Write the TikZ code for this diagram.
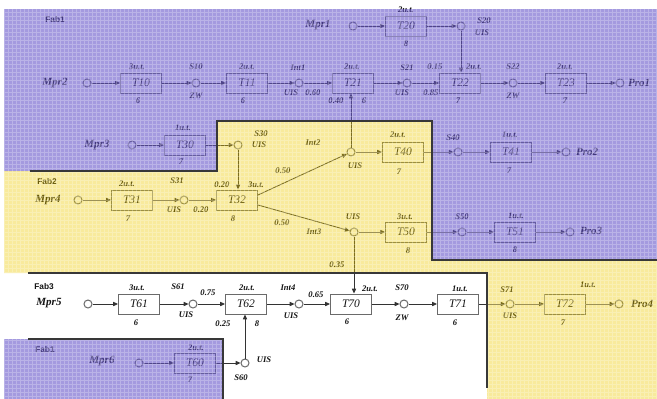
\documentclass[tikz,border=0pt]{standalone}
\usepackage{fontspec}
\setmainfont{Liberation Serif}
\newfontfamily\fabfont{Liberation Sans}
\usetikzlibrary{arrows.meta}
\definecolor{ink}{HTML}{141414}
\definecolor{boxc}{HTML}{6A6A6A}
\definecolor{lav}{HTML}{6352C8}
\definecolor{yel}{HTML}{EDCA00}
\definecolor{edgec}{HTML}{333333}
\definecolor{bordc}{HTML}{383838}
\newcommand\mylab[4][sm]{\node[#1] (#2) at (#3) {#4};}
\begin{document}
\begin{tikzpicture}[x=1pt,y=-1pt,
  every node/.style={text=ink},
  tb/.style={draw=boxc, line width=1pt, minimum width=41pt, minimum height=20pt, inner sep=0pt, font=\fontsize{11.5}{12}\selectfont\itshape},
  ci/.style={circle, draw=boxc, line width=1pt, minimum size=8pt, inner sep=0pt},
  big/.style={font=\fontsize{11}{11}\selectfont\bfseries\itshape, inner sep=0pt},
  sm/.style={font=\fontsize{8.6}{9}\selectfont\bfseries\itshape, inner sep=0pt},
  fab/.style={font=\fabfont\fontsize{8.3}{9}\selectfont\bfseries, inner sep=0pt},
  ar/.style={draw=edgec, line width=0.85pt, -{Triangle[length=4.8pt,width=4.2pt]}},
  brd/.style={draw=bordc, line width=1.5pt},
]
\useasboundingbox (0,0) rectangle (657,399);
\fill[white] (0,0) rectangle (657,399);

% ---------- row 1 ----------
\node[ci] (cM2) at (87,83) {};
\node[tb] (T10) at (141,83) {T10};
\node[ci] (S10) at (196,83) {};
\node[tb] (T11) at (247,83) {T11};
\node[ci] (Int1) at (299,83) {};
\node[tb] (T21) at (353,83) {T21};
\node[ci] (S21) at (407,83) {};
\node[tb] (T22) at (460,83) {T22};
\node[ci] (S22) at (513,83) {};
\node[tb] (T23) at (566,83) {T23};
\node[ci] (Pro1c) at (620,83) {};
\node[ci] (cM1) at (353,26) {};
\node[tb] (T20) at (406,26) {T20};
\node[ci] (S20) at (461,26) {};

% ---------- T30 row ----------
\node[ci] (cM3) at (132,145) {};
\node[tb] (T30) at (185,145) {T30};
\node[ci] (S30) at (238,145) {};

% ---------- row 2 ----------
\node[ci] (cM4) at (78,200) {};
\node[tb] (T31) at (132,200) {T31};
\node[ci] (S31) at (184,200) {};
\node[tb] (T32) at (237,200) {T32};
\node[ci] (Int2) at (351,152) {};
\node[tb] (T40) at (403,152) {T40};
\node[ci] (S40) at (458,152) {};
\node[tb] (T41) at (511,152) {T41};
\node[ci] (Pro2c) at (566,152) {};
\node[ci] (Int3) at (354,232) {};
\node[tb] (T50) at (406,232) {T50};
\node[ci] (S50) at (462,232) {};
\node[tb] (T51) at (515,232) {T51};
\node[ci] (Pro3c) at (570,232) {};

% ---------- row 3 ----------
\node[ci] (cM5) at (88,304) {};
\node[tb] (T61) at (139,304) {T61};
\node[ci] (S61) at (193,304) {};
\node[tb] (T62) at (246,304) {T62};
\node[ci] (Int4) at (299,304) {};
\node[tb] (T70) at (351,304) {T70};
\node[ci] (S70) at (404,304) {};
\node[tb] (T71) at (458,304) {T71};
\node[ci] (S71) at (510,304) {};
\node[tb] (T72) at (565,304) {T72};
\node[ci] (Pro4c) at (619,304) {};

% ---------- bottom ----------
\node[ci] (cM6) at (139,363) {};
\node[tb] (T60) at (195,363) {T60};
\node[ci] (S60) at (245,363) {};

% ---------- connectors ----------
\draw[ar] (cM2) -- (T10);
\draw[ar] (T10) -- (S10);
\draw[ar] (S10) -- (T11);
\draw[ar] (T11) -- (Int1);
\draw[ar] (Int1) -- (T21);
\draw[ar] (T21) -- (S21);
\draw[ar] (S21) -- (T22);
\draw[ar] (T22) -- (S22);
\draw[ar] (S22) -- (T23);
\draw[ar] (T23) -- (Pro1c);
\draw[ar] (cM1) -- (T20);
\draw[ar] (T20) -- (S20);
\draw[ar] (S20.south) -- (S20.south |- T22.north);
\draw[ar] (Int2.north) -- (Int2.north |- T21.south);

\draw[ar] (cM3) -- (T30);
\draw[ar] (T30) -- (S30);
\draw[ar] (S30.south) -- (S30.south |- T32.north);

\draw[ar] (cM4) -- (T31);
\draw[ar] (T31) -- (S31);
\draw[ar] (S31) -- (T32);
\draw[ar] ([yshift=5pt]T32.east) -- (Int2);
\draw[ar] ([yshift=-5pt]T32.east) -- (Int3);
\draw[ar] (Int2) -- (T40);
\draw[ar] (T40) -- (S40);
\draw[ar] (S40) -- (T41);
\draw[ar] (T41) -- (Pro2c);
\draw[ar] (Int3) -- (T50);
\draw[ar] (T50) -- (S50);
\draw[ar] (S50) -- (T51);
\draw[ar] (T51) -- (Pro3c);
\draw[ar] (Int3.south) -- (Int3.south |- T70.north);

\draw[ar] (cM5) -- (T61);
\draw[ar] (T61) -- (S61);
\draw[ar] (S61) -- (T62);
\draw[ar] (T62) -- (Int4);
\draw[ar] (Int4) -- (T70);
\draw[ar] (T70) -- (S70);
\draw[ar] (S70) -- (T71);
\draw[ar] (T71) -- (S71);
\draw[ar] (S71) -- (T72);
\draw[ar] (T72) -- (Pro4c);

\draw[ar] (cM6) -- (T60);
\draw[ar] (T60) -- (S60);
\draw[ar] (S60.north) -- (S60.north |- T62.south);

% ---------- labels ----------
\mylab[fab]{fab1a}{55,20}{Fab1}
\mylab[big]{mpr2}{55,83}{Mpr2}
\mylab{a1}{137,67}{3u.t.}
\mylab{a2}{138,101}{6}
\mylab{a3}{196,67}{S10}
\mylab{a4}{196,96}{ZW}
\mylab{a5}{247,67}{2u.t.}
\mylab{a6}{243,101}{6}
\mylab{a7}{298,68}{Int1}
\mylab{a8}{291,93}{UIS}
\mylab{a9}{313,93}{0.60}
\mylab{a10}{352,67}{2u.t.}
\mylab{a11}{336,101}{0.40}
\mylab{a12}{364,101}{6}
\mylab[big]{mpr1}{318,25}{Mpr1}
\mylab{a13}{406,10}{2u.t.}
\mylab{a14}{406,44}{8}
\mylab{a15}{484,21}{S20}
\mylab{a16}{482,33}{UIS}
\mylab{a17}{407,68}{S21}
\mylab{a18}{402,93}{UIS}
\mylab{a19}{431,93}{0.85}
\mylab{a20}{435,67}{0.15}
\mylab{a21}{474,67}{2u.t.}
\mylab{a22}{458,101}{7}
\mylab{a23}{513,67}{S22}
\mylab{a24}{513,96}{ZW}
\mylab{a25}{565,67}{2u.t.}
\mylab{a26}{565,101}{7}
\node[big, anchor=west] (pro1) at (628,83) {Pro1};

\mylab[big]{mpr3}{97,145}{Mpr3}
\mylab{b1}{183,128}{1u.t.}
\mylab{b2}{181,162}{7}
\mylab{b3}{261,134}{S30}
\mylab{b4}{259,145}{UIS}

\mylab[fab]{fab2}{47,182}{Fab2}
\mylab[big]{mpr4}{48,200}{Mpr4}
\mylab{c1}{127,184}{2u.t.}
\mylab{c2}{128,219}{7}
\mylab{c3}{177,181}{S31}
\mylab{c4}{174,210}{UIS}
\mylab{c5}{201,210}{0.20}
\mylab{c6}{222,185}{0.20}
\mylab{c7}{256,185}{3u.t.}
\mylab{c8}{233,219}{8}
\mylab{c9}{283,171}{0.50}
\mylab{c10}{282,223}{0.50}
\mylab{c11}{313,143}{Int2}
\mylab{c12}{355,166}{UIS}
\mylab{c13}{398,135}{2u.t.}
\mylab{c14}{399,172}{7}
\mylab{c15}{453,138}{S40}
\mylab{c16}{510,135}{1u.t.}
\mylab{c17}{509,171}{7}
\node[big, anchor=west] (pro2) at (576,152) {Pro2};
\mylab{c18}{353,217}{UIS}
\mylab{c19}{314,232}{Int3}
\mylab{c20}{405,217}{3u.t.}
\mylab{c21}{408,251}{8}
\mylab{c22}{462,217}{S50}
\mylab{c23}{516,216}{1u.t.}
\mylab{c24}{515,250}{8}
\node[big, anchor=west] (pro3) at (580,231) {Pro3};
\mylab{c25}{337,265}{0.35}

\mylab[fab]{fab3}{44,287}{Fab3}
\mylab[big]{mpr5}{49,303}{Mpr5}
\mylab{d1}{137,288}{3u.t.}
\mylab{d2}{136,323}{6}
\mylab{d3}{178,287}{S61}
\mylab{d4}{186,315}{UIS}
\mylab{d5}{208,293}{0.75}
\mylab{d6}{247,288}{2u.t.}
\mylab{d7}{223,324}{0.25}
\mylab{d8}{257,324}{8}
\mylab{d9}{288,288}{Int4}
\mylab{d10}{291,316}{UIS}
\mylab{d11}{316,295}{0.65}
\mylab{d12}{370,289}{2u.t.}
\mylab{d13}{347,322}{6}
\mylab{d14}{402,288}{S70}
\mylab{d15}{402,318}{ZW}
\mylab{d16}{460,289}{1u.t.}
\mylab{d17}{455,323}{6}
\mylab{d18}{507,290}{S71}
\mylab{d19}{510,316}{UIS}
\mylab{d20}{588,285}{1u.t.}
\mylab{d21}{563,323}{7}
\node[big, anchor=west] (pro4) at (631,304) {Pro4};

\mylab[fab]{fab1b}{45,350}{Fab1}
\mylab[big]{mpr6}{102,361}{Mpr6}
\mylab{e1}{196,348}{2u.t.}
\mylab{e2}{190,380}{7}
\mylab{e3}{264,360}{UIS}
\mylab{e4}{241,378}{S60}

% ---------- region overlays ----------
\fill[lav, opacity=0.58] (4,9) -- (657,9) -- (657,260) -- (432,260) -- (432,121) -- (217,121) -- (217,171) -- (4,171) -- cycle;
\fill[yel, opacity=0.39] (4,171) -- (217,171) -- (217,121) -- (432,121) -- (432,260) -- (657,260) -- (657,399) -- (487,399) -- (487,273) -- (4,273) -- cycle;
\fill[lav, opacity=0.58] (4,339) rectangle (223,399);

\begin{scope}
\clip (4,9) -- (657,9) -- (657,260) -- (432,260) -- (432,121) -- (217,121) -- (217,171) -- (4,171) -- cycle
      (4,339) rectangle (223,399)
      (4,171) -- (217,171) -- (217,121) -- (432,121) -- (432,260) -- (657,260) -- (657,399) -- (487,399) -- (487,273) -- (4,273) -- cycle;
\draw[white, opacity=0.25, line width=0.7pt, xstep=4pt, ystep=4pt] (0,0) grid (657,399);
\end{scope}

% ---------- region borders ----------
\draw[brd] (30,171) -- (217,171) -- (217,121) -- (432,121) -- (432,260) -- (657,260);
\draw[brd] (28,273) -- (487,273) -- (487,388);
\draw[brd] (28,339) -- (223,339) -- (223,399);
\end{tikzpicture}
\end{document}
